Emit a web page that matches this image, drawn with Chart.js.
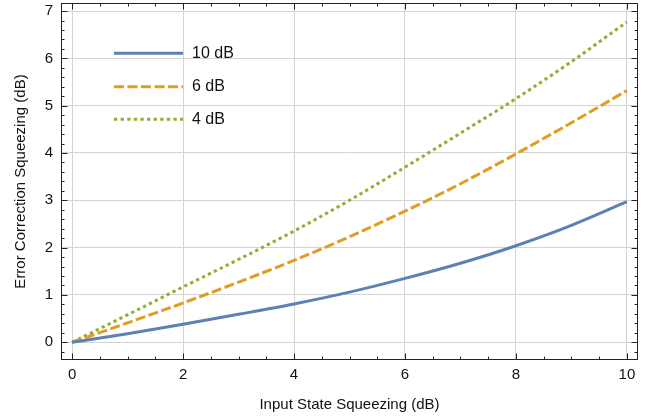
<!DOCTYPE html>
<html><head><meta charset="utf-8">
<script src="https://cdn.jsdelivr.net/npm/chart.js@4/dist/chart.umd.min.js"></script>
<style>html,body{margin:0;padding:0;background:#fff}#wrap{width:660px;height:418px}</style>
</head><body><div id="wrap"><canvas id="c" width="660" height="418"></canvas></div>
<script>
const xValues = [0, 1, 2, 3, 4, 5, 6, 7, 8, 9, 10];
const series10dB = [0, 0.18, 0.38, 0.59, 0.81, 1.06, 1.35, 1.67, 2.04, 2.47, 2.97];
const series6dB = [0, 0.41, 0.83, 1.27, 1.73, 2.23, 2.77, 3.35, 3.98, 4.64, 5.32];
const series4dB = [0, 0.58, 1.17, 1.75, 2.35, 3.0, 3.7, 4.42, 5.15, 5.93, 6.77];
const seriesLabels = ['10 dB', '6 dB', '4 dB'];
const xTickValues = [0, 2, 4, 6, 8, 10];
const yTickValues = [0, 1, 2, 3, 4, 5, 6, 7];
const xMinorStep = 0.5;
const yMinorStep = 0.2;
const xTitle = 'Input State Squeezing (dB)';
const yTitle = 'Error Correction Squeezing (dB)';

const FONT = '"Liberation Sans", Arial, sans-serif';
const colors = ['#5E81B5', '#E19C24', '#8FB032'];
const dashes = [[], [10, 3.5], [3.3, 3.3]];

function toPts(ys) { return xValues.map((x, i) => ({ x: x, y: ys[i] })); }

const frameTicks = {
  id: 'frameTicks',
  afterDatasetsDraw(chart) {
    const ctx = chart.ctx;
    const a = chart.chartArea;
    const xs = chart.scales.x, ys = chart.scales.y;
    ctx.save();
    ctx.strokeStyle = '#222';
    ctx.lineWidth = 1;
    ctx.strokeRect(Math.round(a.left) + 0.5, Math.round(a.top) + 0.5,
      Math.round(a.right) - Math.round(a.left) - 1, Math.round(a.bottom) - Math.round(a.top) - 1);
    ctx.beginPath();
    const x0 = Math.ceil(xs.min / xMinorStep - 1e-9);
    const x1 = Math.floor(xs.max / xMinorStep + 1e-9);
    for (let k = x0; k <= x1; k++) {
      const v = k * xMinorStep;
      const major = xTickValues.some(t => Math.abs(t - v) < 1e-9);
      const len = major ? 6.5 : 3.5;
      const px = Math.round(xs.getPixelForValue(v)) + 0.5;
      ctx.moveTo(px, a.bottom); ctx.lineTo(px, a.bottom - len);
      ctx.moveTo(px, a.top); ctx.lineTo(px, a.top + len);
    }
    const y0 = Math.ceil(ys.min / yMinorStep - 1e-9);
    const y1 = Math.floor(ys.max / yMinorStep + 1e-9);
    for (let k = y0; k <= y1; k++) {
      const v = k * yMinorStep;
      const major = yTickValues.some(t => Math.abs(t - v) < 1e-9);
      const len = major ? 6.5 : 3.5;
      const py = Math.round(ys.getPixelForValue(v)) + 0.5;
      ctx.moveTo(a.left, py); ctx.lineTo(a.left + len, py);
      ctx.moveTo(a.right, py); ctx.lineTo(a.right - len, py);
    }
    ctx.stroke();

    const ly = [53.3, 86.7, 119.3];
    chart.data.datasets.forEach((ds, i) => {
      ctx.beginPath();
      ctx.strokeStyle = ds.borderColor;
      ctx.lineWidth = ds.borderWidth;
      ctx.lineCap = 'butt';
      ctx.setLineDash(ds.borderDash || []);
      ctx.moveTo(114, ly[i]); ctx.lineTo(183, ly[i]);
      ctx.stroke();
      ctx.setLineDash([]);
      ctx.fillStyle = '#111';
      ctx.font = '16px ' + FONT;
      ctx.textBaseline = 'middle';
      ctx.textAlign = 'left';
      ctx.fillText(ds.label, 192, ly[i]);
    });
    ctx.restore();
  }
};

new Chart(document.getElementById('c'), {
  type: 'line',
  data: {
    datasets: [series10dB, series6dB, series4dB].map((s, i) => ({
      label: seriesLabels[i],
      data: toPts(s),
      borderColor: colors[i],
      backgroundColor: colors[i],
      borderWidth: 3,
      borderDash: dashes[i],
      borderCapStyle: 'butt',
      pointRadius: 0,
      cubicInterpolationMode: 'monotone',
      fill: false
    }))
  },
  options: {
    responsive: false,
    animation: false,
    devicePixelRatio: 1,
    layout: { padding: { top: 3, right: 22, left: 0, bottom: 0 } },
    plugins: { legend: { display: false }, tooltip: { enabled: false } },
    scales: {
      x: {
        type: 'linear', min: -0.2, max: 10.2,
        afterBuildTicks: s => { s.ticks = xTickValues.map(v => ({ value: v })); },
        afterFit: s => { s.height = 58; s.paddingLeft = 0; s.paddingRight = 0; },
        ticks: { font: { family: FONT, size: 15 }, color: '#111', padding: 6, maxRotation: 0, autoSkip: false },
        grid: { color: '#d4d4d4', lineWidth: 1, drawTicks: false },
        border: { display: false },
        title: { display: true, text: xTitle, font: { family: FONT, size: 15 }, color: '#111', padding: { top: 0, bottom: 4.5 } }
      },
      y: {
        type: 'linear', min: -0.375, max: 7.17,
        afterBuildTicks: s => { s.ticks = yTickValues.map(v => ({ value: v })); },
        afterFit: s => { s.width = 61; s.paddingTop = 0; s.paddingBottom = 0; },
        ticks: { font: { family: FONT, size: 15 }, color: '#111', padding: 8, autoSkip: false },
        grid: { color: '#d4d4d4', lineWidth: 1, drawTicks: false },
        border: { display: false },
        title: { display: true, text: yTitle, font: { family: FONT, size: 15 }, color: '#111', padding: { top: 12, bottom: 0 } }
      }
    }
  },
  plugins: [frameTicks]
});
</script>
</body></html>
